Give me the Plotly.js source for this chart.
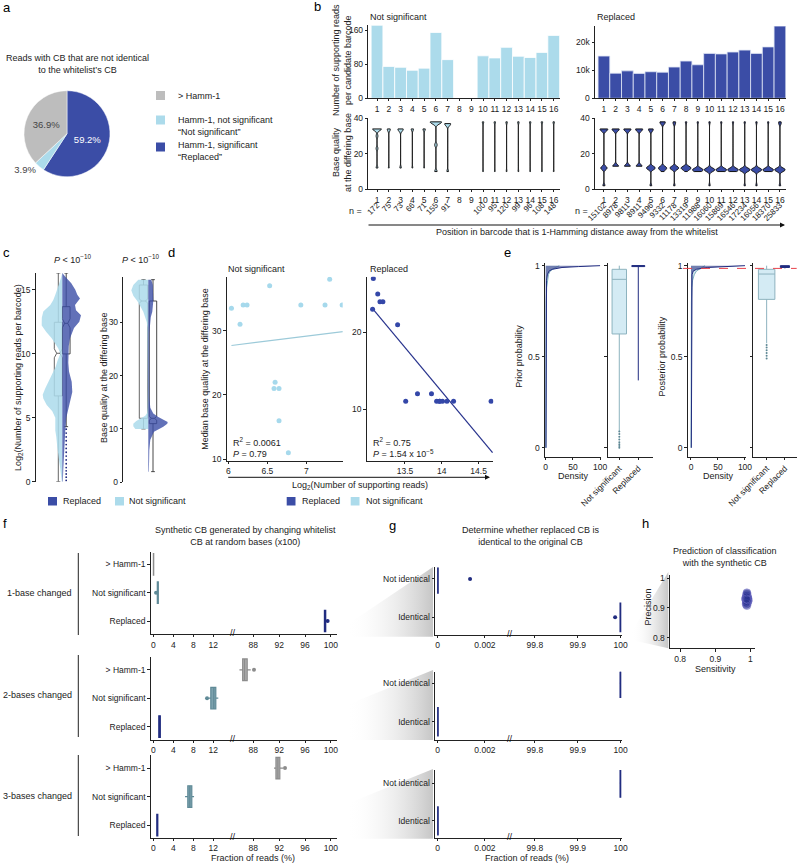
<!DOCTYPE html>
<html><head><meta charset="utf-8">
<script src="https://cdn.plot.ly/plotly-3.0.1.min.js"></script>
<style>html,body{margin:0;padding:0;background:#fff}#chart{width:800px;height:863px}</style>
</head><body><div id="chart"></div>
<script>
// ================= DATA =================
// a
const pieLabels = ['Replaced', 'Not significant', '> Hamm-1'];
const piePercent = [59.2, 3.9, 36.9];
// b
const barPositions = [1,2,3,4,5,6,7,8,9,10,11,12,13,14,15,16];
const nsReads = [172,75,73,66,71,155,91,null,null,100,95,120,99,96,108,148];
const repReads = [15102,8978,9811,8911,9496,9332,11178,13319,11988,16060,15869,16546,17234,16056,18370,25833];
const nsBaseQual = [
  [12,23,30,34,34,34,34,34],[12,33,34,34,34],[12,33,34,34,34],[12,34,34,34],[12,34,34,34],
  [10,25,37,38,38,38,38],[10,36,37,37,37],null,null,
  [10,38,38],[10,38,38],[10,38,38],[10,38,38],[10,38,38],[10,38,38],[10,38,38]
];
const repBaseQual = [
  [2,12,12,12,33,34,34,34],[13,13,13,33,34,34,34],[13,13,13,33,34,34,34],[13,13,13,33,34,34,34],
  [2,12,12,12,12,12,33,34,34],[10,12,12,12,12,37,38,38],[2,12,12,12,12,12,12,37,38],[10,12,12,12,12,12,12,12,38],
  [10,11,11,11,11,11,11,11,11,38],[2,11,11,11,11,11,11,11,11,38],[10,11,11,11,11,11,11,11,11,38],[10,11,11,11,11,11,11,11,11,38],
  [2,11,11,11,11,11,11,11,11,38],[2,11,11,11,11,11,11,11,11,38],[10,11,11,11,11,11,11,11,11,38],[2,11,11,11,11,11,11,11,37,38]
];
// c  (half-violin density profiles)
const cReadsNsY = [0,1,1.5,2,2.7,3.5,4,4.5,5,5.5,6,6.5,6.8,7.3,7.7,8.1,8.5,9,9.4,10,10.4,10.8,11.2,11.7,12.2,12.8,13.3,13.8,14.2,14.6,15,15.5,16,16.3];
const cReadsNsW = [0.5,2,3,4,5,6,7,7,7,10,15.6,19,19.6,17,14.5,12,9,6.5,5,2,4,7,10.6,16,20.6,20.5,19,12,9,7,5,3,1,0];
const cReadsRepY = [0,1,2,3,4,5,5.5,6.25,7,7.8,8.6,9.3,10,10.6,11.2,12,12.5,13,13.4,13.8,14.3,14.6,15,15.5,16,16.3];
const cReadsRepW = [0.5,1,1.5,2,3,4,5.4,7.7,10,9.4,6.7,6,6,6.5,7.7,11.7,17,18.7,13.7,12.7,17.7,15,13,9,3,0];
const cQualNsY = [10,10.5,11,11.5,12,12.5,13,14,18,22,26,29,30,31,32,33,34,35,36,37,38];
const cQualNsW = [13,15,15,12,7,3,1.2,0.8,0.6,0.6,0.7,1,1.5,3,5,8,11,15,17,15,10];
const cQualRepY = [2,4,6,8,8.6,9.5,10.4,11,11.3,12,12.25,12.9,14,16,20,25,28,31,32,34,36,37,38];
const cQualRepW = [0.5,0.8,1,2,3.4,5.7,15,19,19.4,12,10,5,2,1,0.8,0.8,1,2.5,4,5,5,4.5,3];
// box statistics [q1, median, q3, lowerfence, upperfence]
const cReadsNsBox = [6.7, 10.03, 12.45, 0, 16.3];
const cReadsRepBox = [9.98, 12.37, 13.67, 4.3, 16.3];
const cReadsRepOutliers = [0.1,0.35,0.6,0.85,1.1,1.4,1.7,2.0,2.3,2.6,2.9,3.2,3.5,3.8,4.1];
const cQualNsBox = [12, 34, 37, 10, 38];
const cQualRepBox = [11, 12, 34, 2, 38];
// d
const dNsX = [6.04,6.15,6.19,6.24,6.93,7.24,7.46,6.60,6.586,6.65,6.65,6.77,6.53,7.30];
const dNsY = [33.5,31,34,34,34,34,34,22,21,21,16,11,37,38];
const dRepX = [13.06,13.07,13.13,13.16,13.20,13.40,13.51,13.67,13.86,13.93,13.97,13.97,14.01,14.07,14.16,14.67];
const dRepY = [23,27,25,24,24,21,11,12,12,11,11,11,11,11,11,11];
const dNsFitX = [6.04, 7.47], dNsFitY = [27.7, 29.85];
const dRepFitX = [13.06, 14.69], dRepFitY = [23.1, 4.3];
// e
const eProbY = [0,0.2,0.4,0.6,0.8,0.88,0.92,0.95,0.97,0.98,0.99,0.995,1.0];
const ePriorRepDens = [0.6,0.6,0.6,0.6,0.8,1,1.5,3,6,12,30,60,100];
const ePriorNsDens = [0.3,0.3,0.3,0.5,1,1.8,3,5,8,12,18,22,25];
const ePostRepDens = [0.6,0.6,0.6,0.6,0.6,0.8,1,2,4,10,30,70,100];
const ePostNsDens = [0,0,0,0.3,0.8,1.5,3,6,10,15,20,24,26];
const ePriorNsBox = [0.625, 0.925, 0.98, 0.09, 1.0];
const ePriorRepBox = [0.995, 1.0, 1.0, 0.37, 1.0];
const ePriorNsOutliers = [0,0.01,0.02,0.03,0.045,0.06,0.075,0.09];
const ePostNsBox = [0.815, 0.954, 0.98, 0.574, 1.0];
const ePostRepBox = [0.99, 0.995, 1.0, 0.985, 1.0];
const ePostNsOutliers = [0.49,0.505,0.52,0.535,0.55,0.565];
const ePostThreshold = 0.985;
// f  (per subplot) [q1, median, q3, lo, hi]
const fCategories = ['Replaced', 'Not significant', '> Hamm-1'];
const fGroups = ['1-base changed', '2-bases changed', '3-bases changed'];
const fHammBox = [[0.02,0.05,0.08,0,0.15],[86.35,86.65,87.05,85.85,87.6],[91.5,91.8,92.1,91.2,92.6]];
const fNsBox = [[0.8,0.9,1.0,0.75,1.1],[11.5,12.1,12.5,11.1,13.0],[6.9,7.3,7.7,6.35,8.15]];
const fRepBox = [[99.0,99.1,99.2,98.95,99.3],[1.1,1.25,1.4,1.0,1.5],[0.7,0.8,0.9,0.65,0.95]];
const fHammOutliers = [[], [88.1], [92.9]];
const fNsOutliers = [[0.55], [10.75], []];
const fRepOutliers = [[99.5], [], []];
// g
const gCategories = ['Identical', 'Not identical'];
const gNotIdentical = [0, 100, 100];
const gIdentical = [100, 0, 0];
const gNotIdenticalOutliers = [[0.00137], [], []];
const gIdenticalOutliers = [[99.987], [], []];
// h
const hSens = [0.988,0.990,0.992,0.989,0.991,0.987,0.993,0.990,0.988,0.992,0.989,0.991,0.990,0.986,0.994,0.990,0.989,0.991,0.988,0.992,0.990,0.987,0.993,0.989,0.991,0.990,0.988,0.992,0.990,0.989];
const hPrec = [0.930,0.925,0.935,0.918,0.940,0.928,0.922,0.945,0.912,0.933,0.938,0.915,0.927,0.931,0.926,0.948,0.920,0.936,0.924,0.929,0.908,0.934,0.932,0.942,0.921,0.937,0.916,0.927,0.951,0.930];

// ================= STYLE / HELPERS =================
const FONT = 'Arial, "Liberation Sans", Helvetica, sans-serif';
const W = 800, H = 863;
const C_DARK = '#3b4da6', C_LIGHT = '#acdbeb', C_GRAY = '#bdbdbd';
const C_NAVY = '#212c80';
const TXT = '#222';
const FS = 9;
const dX = (a, b) => [a / W, b / W];
const dY = (top, bot) => [1 - bot / H, 1 - top / H];

const layout = {
  width: W, height: H, margin: {l:0, r:0, t:0, b:0},
  paper_bgcolor: '#fff', plot_bgcolor: 'rgba(0,0,0,0)',
  font: {family: FONT, size: FS, color: TXT},
  showlegend: false, violinmode: 'overlay', boxmode: 'overlay', barmode: 'overlay',
  annotations: [], shapes: []
};
const traces = [];
function ax(o) {
  return Object.assign({showgrid:false, zeroline:false, showline:true, linecolor:'#222', linewidth:1,
    ticks:'outside', ticklen:2.5, tickwidth:1, tickcolor:'#222', tickangle:0,
    tickfont:{size:8.5, color:TXT, family:FONT}, fixedrange:true, automargin:false}, o);
}
let nx = 0, ny = 0;
function pair(xo, yo) {
  const xi = ++nx, yi = ++ny;
  const xs = xi === 1 ? '' : xi, ys = yi === 1 ? '' : yi;
  layout['xaxis' + xs] = ax(Object.assign({anchor: 'y' + ys}, xo));
  layout['yaxis' + ys] = ax(Object.assign({anchor: 'x' + xs}, yo));
  return {x: 'x' + xs, y: 'y' + ys};
}
function extraX(yref, xo) {
  const xi = ++nx;
  layout['xaxis' + xi] = ax(Object.assign({anchor: yref}, xo));
  return 'x' + xi;
}
function T(text, x, y, o = {}) {
  const f = Object.assign({family: FONT, size: FS, color: TXT}, o.font || {});
  const a = Object.assign({text, x: x / W, y: 1 - y / H, xref:'paper', yref:'paper', showarrow:false,
    xanchor:'center', yanchor:'middle'}, o);
  a.font = f;
  layout.annotations.push(a);
}
function rect(x0, y0, x1, y1, color) {
  layout.shapes.push({type:'rect', xref:'paper', yref:'paper', x0:x0/W, x1:x1/W, y0:1-y0/H, y1:1-y1/H,
    fillcolor: color, line:{width:0}});
}
function vline(x, y0, y1, color = '#222', w = 1) {
  layout.shapes.push({type:'line', xref:'paper', yref:'paper', x0:x/W, x1:x/W, y0:1-y0/H, y1:1-y1/H,
    line:{color, width:w}});
}
function arrow(x0, x1, y) {
  layout.annotations.push({xref:'paper', yref:'paper', x: x1 / W, y: 1 - y / H, ax: -(x1 - x0), ay: 0,
    axref:'pixel', ayref:'pixel', showarrow:true, arrowhead:2, arrowsize:1, arrowwidth:1, arrowcolor:'#111', text:''});
}
const LETTER = {font:{size:13, color:'#000'}, xanchor:'left'};

// ================= overlay (decorative zoom wedges) =================
const OV = pair({domain:[0,1], range:[0,W], visible:false}, {domain:[0,1], range:[H,0], visible:false});
const wedgeGrad = {type:'horizontal', colorscale:[[0,'rgba(255,255,255,0)'],[1,'rgba(195,195,195,0.95)']]};
[[346.7,625,433,567,636.7],[346.7,705,433,670,740],[346.7,804,433,769,838.7]].forEach(w => {
  traces.push({type:'scatter', xaxis:OV.x, yaxis:OV.y, mode:'lines', x:[w[0],w[2],w[2],w[0],w[0]],
    y:[w[1],w[3],w[4],w[4],w[1]], fill:'toself', fillgradient:wedgeGrad, line:{width:0}, hoverinfo:'skip'});
});
traces.push({type:'scatter', xaxis:OV.x, yaxis:OV.y, mode:'lines', x:[631.7,668.3,668.3,631.7,631.7],
  y:[632,572,648.3,640,632], fill:'toself', fillgradient:wedgeGrad, line:{width:0}, hoverinfo:'skip'});

// ================= a =================
traces.push({type:'pie', labels: pieLabels, values: piePercent, sort:false, direction:'clockwise', rotation:0,
  domain:{x: dX(24, 110), y: dY(90.7, 176.7)},
  marker:{colors:[C_DARK, C_LIGHT, C_GRAY], line:{color:'#fff', width:0.5}},
  texttemplate: '%{value:.1f}%', textposition:['inside','outside','inside'], insidetextorientation:'horizontal',
  textfont:{size:9.5, color:['#fff', '#444', '#444'], family:FONT}, outsidetextfont:{size:9.5, color:'#444', family:FONT},
  hoverinfo:'skip', showlegend:false});
T('a', 1, 7, LETTER);
T('Reads with CB that are not identical<br>to the whitelist\u2019s CB', 77, 63.5);
rect(156, 91, 165, 100, C_GRAY); rect(156, 115.5, 165, 124.5, C_LIGHT); rect(156, 142.5, 165, 151.5, C_DARK);
T('> Hamm-1', 176, 95.5, {xanchor:'left'});
T('Hamm-1, not significant<br>\u201cNot significant\u201d', 176, 125.5, {xanchor:'left', align:'left'});
T('Hamm-1, significant<br>\u201cReplaced\u201d', 176, 151, {xanchor:'left', align:'left'});

// ================= b =================
const B1 = pair({domain:dX(368.3,559.6), range:[0.26,16.5], tickvals:barPositions, ticklen:2},
                {domain:dY(25,98.3), range:[0,172.5], tickvals:[0,80,160]});
traces.push({type:'bar', xaxis:B1.x, yaxis:B1.y, x:barPositions, y:nsReads, width:1,
  marker:{color:C_LIGHT, line:{color:'#fff', width:0.8}}, hoverinfo:'skip'});
const B2 = pair({domain:dX(595,785.8), range:[0.24,16.5], tickvals:barPositions, ticklen:2},
                {domain:dY(26,98.3), range:[0,25850], tickvals:[0,10000,20000]});
traces.push({type:'bar', xaxis:B2.x, yaxis:B2.y, x:barPositions, y:repReads, width:1,
  marker:{color:C_DARK, line:{color:'#dfe6f5', width:0.8}}, hoverinfo:'skip'});
const B3 = pair({domain:dX(368.3,559.6), range:[0.26,16.5], tickvals:barPositions, ticklen:2},
                {domain:dY(118.3,189.3), range:[0,40], tickvals:[0,20,40]});
const B4 = pair({domain:dX(595,785.8), range:[0.24,16.5], tickvals:barPositions, ticklen:2},
                {domain:dY(118.3,189.3), range:[0,40], tickvals:[0,20,40]});
const nsViolinWidth = [0.75,0.25,0.45,0.2,0.2,0.95,0.5,0,0,0.12,0.12,0.12,0.12,0.12,0.12,0.12];
const repViolinWidth = [0.65,0.6,0.6,0.6,0.75,0.7,0.75,0.85,0.9,0.9,0.9,0.9,0.9,0.9,0.9,0.9];
function bViolin(samples, pos, width, P, fill) {
  traces.push({type:'violin', xaxis:P.x, yaxis:P.y, x: samples.map(() => pos), y: samples, width: width,
    spanmode:'hard', bandwidth:1.0, scalemode:'width', points:false, line:{color:'#111', width:1},
    fillcolor: fill, box:{visible:false}, meanline:{visible:false}, hoverinfo:'skip', showlegend:false});
}
barPositions.forEach((p, i) => {
  if (nsBaseQual[i]) bViolin(nsBaseQual[i], p, nsViolinWidth[i], B3, C_LIGHT);
  bViolin(repBaseQual[i], p, repViolinWidth[i], B4, C_DARK);
});
// n = labels on label-only axes
const nsIdx = barPositions.filter((p, i) => nsReads[i] !== null);
const B5 = pair({domain:dX(368.3,559.6), range:[0.26,16.5], tickvals:nsIdx,
  ticktext: nsIdx.map(p => String(nsReads[p - 1])), tickangle:-45, showline:false, ticks:'', tickfont:{size:8, color:TXT}},
  {domain:dY(196,198), range:[0,1], visible:false});
traces.push({type:'scatter', xaxis:B5.x, yaxis:B5.y, x:[1], y:[0.5], mode:'markers', marker:{opacity:0}, hoverinfo:'skip'});
const B6 = pair({domain:dX(595,785.8), range:[0.24,16.5], tickvals:barPositions,
  ticktext: repReads.map(String), tickangle:-45, showline:false, ticks:'', tickfont:{size:8, color:TXT}},
  {domain:dY(196,198), range:[0,1], visible:false});
traces.push({type:'scatter', xaxis:B6.x, yaxis:B6.y, x:[1], y:[0.5], mode:'markers', marker:{opacity:0}, hoverinfo:'skip'});
T('b', 312, 6, LETTER);
T('Not significant', 368.3, 17, {xanchor:'left'});
T('Replaced', 595, 17, {xanchor:'left'});
T('Number of supporting reads<br>per candidate barcode', 342, 60, {textangle:-90});
T('Base quality<br>at the differing base', 342, 153, {textangle:-90});
T('n =', 355, 211);
T('n =', 581.7, 211);
arrow(367, 785, 225);
T('Position in barcode that is 1-Hamming distance away from the whitelist', 576.5, 232);

// ================= c =================
const C1 = pair({domain:dX(35.7,100), range:[-26.6,37.7], visible:false},
                {domain:dY(273,481.7), range:[0,16.3], tickvals:[0,5,10,15]});
const C2 = pair({domain:dX(123.3,172), range:[-25,23.7], visible:false},
                {domain:dY(277,482.3), range:[0,38.5], tickvals:[0,10,20,30]});
function halfViolin(ys, ws, sign, P, color) {
  traces.push({type:'scatter', xaxis:P.x, yaxis:P.y, mode:'lines', fill:'toself', fillcolor:color, line:{width:0},
    x:[0].concat(ws.map(w => sign * w), [0]), y:[ys[0]].concat(ys, [ys[ys.length - 1]]), hoverinfo:'skip'});
}
halfViolin(cReadsNsY, cReadsNsW, -1, C1, 'rgba(172,219,235,0.85)');
halfViolin(cReadsRepY, cReadsRepW, 1, C1, 'rgba(59,77,166,0.8)');
halfViolin(cQualNsY, cQualNsW, -1, C2, 'rgba(172,219,235,0.85)');
halfViolin(cQualRepY, cQualRepW, 1, C2, 'rgba(59,77,166,0.8)');
function cBox(P, xpos, width, s, lineColor) {
  traces.push({type:'box', xaxis:P.x, yaxis:P.y, x:[xpos], q1:[s[0]], median:[s[1]], q3:[s[2]],
    lowerfence:[s[3]], upperfence:[s[4]], width: width, notched:true, notchspan:[0.35], notchwidth:0.3,
    fillcolor:'rgba(255,255,255,0.25)', line:{color:lineColor, width:0.9}, boxpoints:false, hoverinfo:'skip'});
}
cBox(C1, -4, 8, cReadsNsBox, '#555');
cBox(C1, 3.9, 7.7, cReadsRepBox, '#333');
traces.push({type:'scatter', xaxis:C1.x, yaxis:C1.y, mode:'markers', x:cReadsRepOutliers.map(() => 3.9),
  y:cReadsRepOutliers, marker:{size:1.8, color:C_NAVY}, hoverinfo:'skip'});
cBox(C2, -4.8, 8.4, cQualNsBox, '#555');
cBox(C2, 4.7, 7.4, cQualRepBox, '#333');
T('c', 1, 253, LETTER);
T('<i>P</i> < 10<sup>\u221210</sup>', 72, 259);
T('<i>P</i> < 10<sup>\u221210</sup>', 140, 259);
T('Log<sub>2</sub>(Number of supporting reads per barcode)', 18, 378, {textangle:-90});
T('Base quality at the differing base', 104, 378, {textangle:-90});
rect(48, 497, 57, 505.5, C_DARK); T('Replaced', 61, 501.5, {xanchor:'left'});
rect(115, 497, 124, 505.5, C_LIGHT); T('Not significant', 127, 501.5, {xanchor:'left'});

// ================= d =================
const D1 = pair({domain:dX(226.7,342.7), range:[5.979,7.467], tickvals:[6,6.5,7], ticktext:['6','6.5','7']},
                {domain:dY(276.7,460.7), range:[9.78,38.4], tickvals:[10,20,30]});
const D2 = pair({domain:dX(366.7,493.3), range:[12.98,14.70], tickvals:[13.5,14,14.5], ticktext:['13.5','14','14.5']},
                {domain:dY(276.7,460.7), range:[3.26,27.25], tickvals:[10,20]});
traces.push({type:'scatter', xaxis:D1.x, yaxis:D1.y, mode:'lines', x:dNsFitX, y:dNsFitY, line:{color:'#9ccad9', width:1.2}, hoverinfo:'skip'});
traces.push({type:'scatter', xaxis:D1.x, yaxis:D1.y, mode:'markers', x:dNsX, y:dNsY, marker:{size:5, color:'#a6d9ec'}, hoverinfo:'skip'});
traces.push({type:'scatter', xaxis:D2.x, yaxis:D2.y, mode:'lines', x:dRepFitX, y:dRepFitY, line:{color:'#27328c', width:1.2}, hoverinfo:'skip'});
traces.push({type:'scatter', xaxis:D2.x, yaxis:D2.y, mode:'markers', x:dRepX, y:dRepY, marker:{size:5, color:'#3447a8'}, hoverinfo:'skip'});
T('d', 166, 253, LETTER);
T('Not significant', 226, 269, {xanchor:'left'});
T('Replaced', 368, 269, {xanchor:'left'});
T('Median base quality at the differing base', 205, 368.7, {textangle:-90});
T('R<sup>2</sup> = 0.0061<br><i>P</i> = 0.79', 230.7, 447.5, {xanchor:'left', align:'left'});
T('R<sup>2</sup> = 0.75<br><i>P</i> = 1.54 x 10<sup>\u22125</sup>', 370.7, 447.5, {xanchor:'left', align:'left'});
arrow(226.7, 490, 477.3);
T('Log<sub>2</sub>(Number of supporting reads)', 360, 485);
rect(286.7, 497, 295.5, 505.5, C_DARK); T('Replaced', 300, 501.5, {xanchor:'left'});
rect(350.7, 497, 359.5, 505.5, C_LIGHT); T('Not significant', 364, 501.5, {xanchor:'left'});

// ================= e =================
const yProb = {range:[-0.049,1.013], tickvals:[0,0.5,1], ticktext:['0','0.5','1']};
const E1 = pair({domain:dX(545,600.5), range:[-1.3,100.7], tickvals:[0,50,100]}, Object.assign({domain:dY(263.3,456.7)}, yProb));
const E2 = pair({domain:dX(607.7,653.3), range:[-0.61,1.79], tickvals:[0,1], ticktext:['Not significant','Replaced'], tickangle:-45},
                Object.assign({domain:dY(263.3,456.7), showticklabels:false}, yProb));
const E3 = pair({domain:dX(687.7,746), range:[-6.1,101.9], tickvals:[0,50,100]}, Object.assign({domain:dY(263.3,456.7)}, yProb));
const E4 = pair({domain:dX(753.3,797), range:[-0.73,1.66], tickvals:[0,1], ticktext:['Not significant','Replaced'], tickangle:-45},
                Object.assign({domain:dY(263.3,456.7), showticklabels:false}, yProb));
function dens(P, d, color, fillc) {
  traces.push({type:'scatter', xaxis:P.x, yaxis:P.y, mode:'lines', x:d, y:eProbY, fill:'tozerox', fillcolor:fillc,
    line:{color:color, width:1}, hoverinfo:'skip'});
}
dens(E1, ePriorNsDens, '#7fb2c2', 'rgba(127,178,194,0.35)');
dens(E1, ePriorRepDens, C_NAVY, 'rgba(33,44,128,0.55)');
dens(E3, ePostNsDens, '#7fb2c2', 'rgba(127,178,194,0.35)');
dens(E3, ePostRepDens, C_NAVY, 'rgba(33,44,128,0.55)');
function eBox(P, xpos, width, s, fill, lc) {
  traces.push({type:'box', xaxis:P.x, yaxis:P.y, x:[xpos], q1:[s[0]], median:[s[1]], q3:[s[2]], lowerfence:[s[3]],
    upperfence:[s[4]], width:width, fillcolor:fill, line:{color:lc, width:1}, whiskerwidth:0, boxpoints:false, hoverinfo:'skip'});
}
eBox(E2, 0, 0.76, ePriorNsBox, '#d4ebf4', '#8db3bf');
eBox(E2, 1, 0.68, ePriorRepBox, C_NAVY, C_NAVY);
traces.push({type:'scatter', xaxis:E2.x, yaxis:E2.y, mode:'markers', x:ePriorNsOutliers.map(() => 0), y:ePriorNsOutliers,
  marker:{size:2, color:'#5d8794'}, hoverinfo:'skip'});
eBox(E4, 0, 0.9, ePostNsBox, '#d4ebf4', '#8db3bf');
eBox(E4, 1, 0.5, ePostRepBox, C_NAVY, C_NAVY);
traces.push({type:'scatter', xaxis:E4.x, yaxis:E4.y, mode:'markers', x:ePostNsOutliers.map(() => 0), y:ePostNsOutliers,
  marker:{size:2, color:'#5d8794'}, hoverinfo:'skip'});
layout.shapes.push({type:'line', xref:'paper', x0:683/W, x1:796.7/W, yref:E3.y, y0:ePostThreshold, y1:ePostThreshold,
  line:{color:'#e8434b', width:1, dash:'dash'}});
T('e', 501.7, 253, LETTER);
T('Prior probability', 519, 356.7, {textangle:-90});
T('Posterior probability', 661.7, 356.7, {textangle:-90});
T('Density', 573.3, 476);
T('Density', 718.3, 476);

// ================= f =================
const fPanels = [[551.7,634.3,[-0.47,2.45]],[656.7,740,[-0.47,2.46]],[755,838.2,[-0.46,2.46]]];
const fAx = fPanels.map(p => {
  const L = pair({domain:dX(150.7,233.3), range:[-0.52,16], tickvals:[0,4,8,12], ticklen:2},
                 {domain:dY(p[0],p[1]), range:p[2], tickvals:[0,1,2], ticktext:fCategories});
  const R = extraX(L.y, {domain:dX(233.3,336.7), range:[84.9,100.9], tickvals:[88,92,96,100], ticklen:2});
  return {L: L, R: {x:R, y:L.y}};
});
function hBox(P, ypos, s, color, fill, width = 0.76) {
  traces.push({type:'box', orientation:'h', xaxis:P.x, yaxis:P.y, y:[ypos], q1:[s[0]], median:[s[1]], q3:[s[2]],
    lowerfence:[s[3]], upperfence:[s[4]], width:width, fillcolor:fill, line:{color:color, width:1.2},
    whiskerwidth:0, boxpoints:false, hoverinfo:'skip'});
}
function hOut(P, ypos, vals, color) {
  if (!vals.length) return;
  traces.push({type:'scatter', xaxis:P.x, yaxis:P.y, mode:'markers', x:vals, y:vals.map(() => ypos),
    marker:{size:4, color:color}, hoverinfo:'skip'});
}
const segOf = (A, v) => v > 50 ? A.R : A.L;
fAx.forEach((A, k) => {
  hBox(segOf(A, fHammBox[k][1]), 2, fHammBox[k], '#8c8c8c', 'rgba(160,160,160,0.85)');
  hBox(segOf(A, fNsBox[k][1]), 1, fNsBox[k], '#5f8a97', 'rgba(111,152,165,0.9)');
  hBox(segOf(A, fRepBox[k][1]), 0, fRepBox[k], C_NAVY, C_NAVY);
  fHammOutliers[k].forEach(v => hOut(segOf(A, v), 2, [v], '#8c8c8c'));
  fNsOutliers[k].forEach(v => hOut(segOf(A, v), 1, [v], '#5f8a97'));
  fRepOutliers[k].forEach(v => hOut(segOf(A, v), 0, [v], C_NAVY));
  T('//', 233.3, fPanels[k][1] - 1, {font:{size:9, color:'#111'}});
  T(fGroups[k], 74, [593.3, 695, 795.5][k], {xanchor:'right'});
});
vline(78.3, 553, 635); vline(78.3, 655, 737); vline(78.3, 755, 836);
T('f', 1, 523, LETTER);
T('Synthetic CB generated by changing whitelist<br>CB at random bases (x100)', 245, 535.5);
T('Fraction of reads (%)', 253.3, 857.5);

// ================= g =================
const gPanels = [[567.4,635,[-0.46,1.3]],[671.7,740,[-0.475,1.3]],[770,838.2,[-0.46,1.35]]];
const gAx = gPanels.map(p => {
  const L = pair({domain:dX(435,510), range:[-0.000114,0.00306], tickvals:[0,0.002], ticktext:['0','0.002'], ticklen:2},
                 {domain:dY(p[0],p[1]), range:p[2], tickvals:[0,1], ticktext:gCategories});
  const R = extraX(L.y, {domain:dX(510,622), range:[99.742,100.003], tickvals:[99.8,99.9,100], ticktext:['99.8','99.9','100'], ticklen:2});
  return {L: L, R: {x:R, y:L.y}};
});
function gStat(v) { return v > 50 ? [99.9985, 100, 100, 99.997, 100] : [0, 0, 0.00002, 0, 0.00004]; }
gAx.forEach((A, k) => {
  hBox(segOf(A, gNotIdentical[k]), 1, gStat(gNotIdentical[k]), C_NAVY, C_NAVY, 0.74);
  hBox(segOf(A, gIdentical[k]), 0, gStat(gIdentical[k]), C_NAVY, C_NAVY, 0.74);
  gNotIdenticalOutliers[k].forEach(v => hOut(segOf(A, v), 1, [v], C_NAVY));
  gIdenticalOutliers[k].forEach(v => hOut(segOf(A, v), 0, [v], C_NAVY));
  T('//', 510, gPanels[k][1] - 1, {font:{size:9, color:'#111'}});
});
T('g', 386.7, 525, LETTER);
T('Determine whether replaced CB is<br>identical to the original CB', 530.5, 535.5);
T('Fraction of reads (%)', 526.7, 857.5);

// ================= h =================
const HP = pair({domain:dX(670,755), range:[0.771,1.013], tickvals:[0.8,0.9,1], ticktext:['0.8','0.9','1']},
                {domain:dY(575,648.3), range:[0.764,1.011], tickvals:[0.8,0.9,1], ticktext:['0.8','0.9','1']});
traces.push({type:'scatter', xaxis:HP.x, yaxis:HP.y, mode:'markers', x:hSens, y:hPrec,
  marker:{size:8, color:'rgba(38,48,140,0.4)', line:{color:'rgba(120,115,205,0.45)', width:1}}, hoverinfo:'skip'});
T('h', 640, 523.3, LETTER);
T('Prediction of classification<br>with the synthetic CB', 725, 557);
T('Precision', 647.7, 606.7, {textangle:-90});
T('Sensitivity', 715, 668.5);

Plotly.newPlot('chart', traces, layout, {staticPlot:true, displayModeBar:false});
</script></body></html>
